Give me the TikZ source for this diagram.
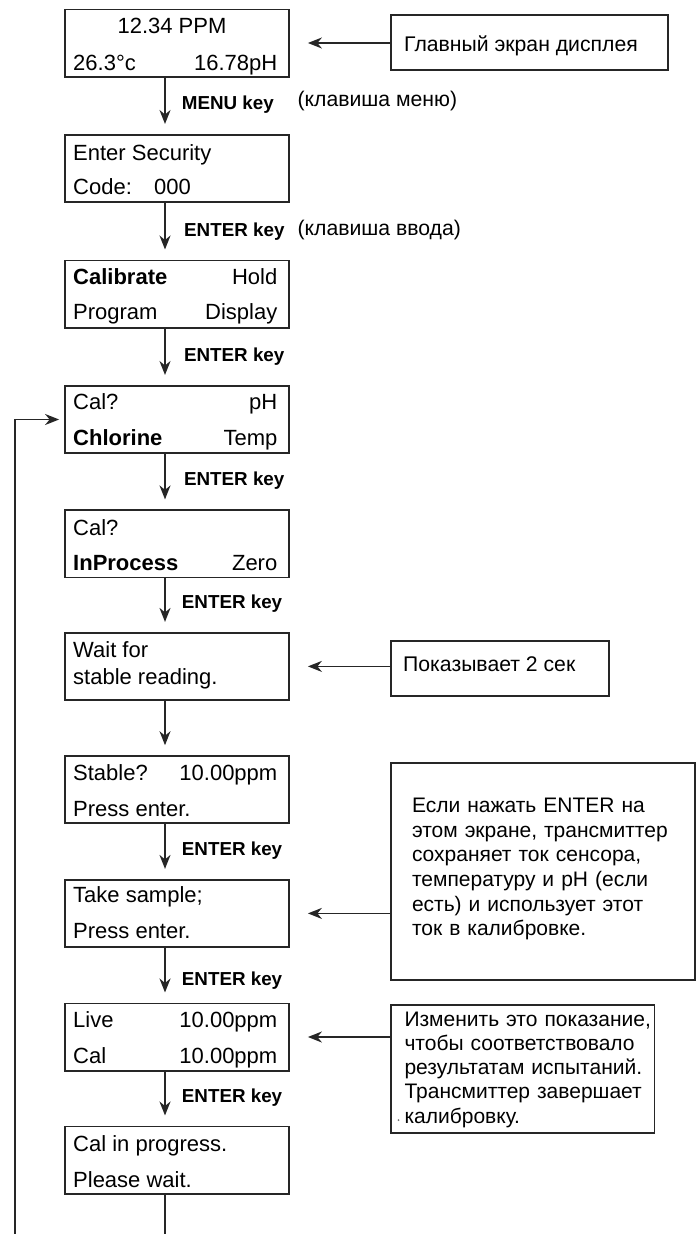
\documentclass[tikz,border=0pt]{standalone}
\usepackage{fontspec}
\setmainfont{Liberation Sans}
\usetikzlibrary{arrows.meta,calc}
\newcommand{\lcdf}{\fontsize{22}{24}\selectfont}
\newcommand{\keyf}{\fontsize{18.8}{20}\selectfont\bfseries}
\newcommand{\ruf}{\fontsize{21.2}{24.5}\selectfont}
\tikzset{
 screen/.style={draw=black!85, line width=1.8pt, minimum width=223.7pt, minimum height=67.2pt, inner sep=0pt},
 note/.style={draw=black!85, line width=1.8pt, inner sep=0pt},
 lt/.style={font=\lcdf, anchor=base west, inner sep=0pt},
 rt/.style={font=\lcdf, anchor=base east, inner sep=0pt},
 keylbl/.style={font=\keyf, anchor=base west, inner sep=0pt},
 rutext/.style={font=\ruf, anchor=base west, inner sep=0pt},
 arr/.style={draw=black!85, line width=1.8pt, -{Stealth[length=14pt,width=11pt,inset=4.5pt]}},
 flow/.style={arr, shorten >=10pt},
 side/.style={arr, shorten >=18.3pt},
 plain/.style={draw=black!85, line width=1.8pt},
}
\begin{document}
\begin{tikzpicture}[x=1pt,y=-1pt]
\useasboundingbox (0,0) rectangle (698,1234);
% screens
\node[screen] (s1) at (176.85,43) {};
\node[screen] (s2) at (176.85,168.5) {};
\node[screen] (s3) at (176.85,294) {};
\node[screen] (s4) at (176.85,419.5) {};
\node[screen] (s5) at (176.85,543.9) {};
\node[screen] (s6) at (176.85,666.4) {};
\node[screen] (s7) at (176.85,789.7) {};
\node[screen] (s8) at (176.85,913.4) {};
\node[screen] (s9) at (176.85,1037) {};
\node[screen] (s10) at (176.85,1160) {};
% screen texts
\node[font=\lcdf, anchor=base, inner sep=0pt] (t1a) at (172,33.5) {12.34 PPM};
\node[lt] (t1b) at (73,70) {26.3°c};
\node[rt] (t1c) at (277.5,70) {16.78pH};
\node[lt] (t2a) at (73,160) {Enter Security};
\node[lt] (t2b) at (73,194) {Code:};
\node[lt] (t2c) at (154,194) {000};
\node[lt] (t3a) at (73,284) {\textbf{Calibrate}};
\node[rt] (t3b) at (277.5,284) {Hold};
\node[lt] (t3c) at (73,319) {Program};
\node[rt] (t3d) at (277.5,319) {Display};
\node[lt] (t4a) at (73,409.5) {Cal?};
\node[rt] (t4b) at (277.5,409.5) {pH};
\node[lt] (t4c) at (73,445) {\textbf{Chlorine}};
\node[rt] (t4d) at (277.5,445) {Temp};
\node[lt] (t5a) at (73,535) {Cal?};
\node[lt] (t5b) at (73,570) {\textbf{InProcess}};
\node[rt] (t5c) at (277.5,570) {Zero};
\node[lt] (t6a) at (73,657) {Wait for};
\node[lt] (t6b) at (73,684) {stable reading.};
\node[lt] (t7a) at (73,780) {Stable?};
\node[rt] (t7b) at (277.5,780) {10.00ppm};
\node[lt] (t7c) at (73,816) {Press enter.};
\node[lt] (t8a) at (73,902) {Take sample;};
\node[lt] (t8b) at (73,938.5) {Press enter.};
\node[lt] (t9a) at (73,1027) {Live};
\node[rt] (t9b) at (277.5,1027) {10.00ppm};
\node[lt] (t9c) at (73,1063) {Cal};
\node[rt] (t9d) at (277.5,1063) {10.00ppm};
\node[lt] (t10a) at (73,1151) {Cal in progress.};
\node[lt] (t10b) at (73,1187) {Please wait.};
% flow arrows
\draw[flow] ([xshift=-11.85pt]s1.south) -- ([xshift=-11.85pt]s2.north);
\draw[flow] ([xshift=-11.85pt]s2.south) -- ([xshift=-11.85pt]s3.north);
\draw[flow] ([xshift=-11.85pt]s3.south) -- ([xshift=-11.85pt]s4.north);
\draw[flow] ([xshift=-11.85pt]s4.south) -- ([xshift=-11.85pt]s5.north);
\draw[flow] ([xshift=-11.85pt]s5.south) -- ([xshift=-11.85pt]s6.north);
\draw[flow] ([xshift=-11.85pt]s6.south) -- ([xshift=-11.85pt]s7.north);
\draw[flow] ([xshift=-11.85pt]s7.south) -- ([xshift=-11.85pt]s8.north);
\draw[flow] ([xshift=-11.85pt]s8.south) -- ([xshift=-11.85pt]s9.north);
\draw[flow] ([xshift=-11.85pt]s9.south) -- ([xshift=-11.85pt]s10.north);
\coordinate (bot) at (165,1240);
\draw[plain] ([xshift=-11.85pt]s10.south) -- (bot);
% key labels
\node[keylbl] (k1) at (181.7,109.3) {MENU key};
\node[rutext] (r1) at (297.4,106) {(клавиша меню)};
\node[keylbl] (k2) at (184,236) {ENTER key};
\node[rutext] (r2) at (297.4,235.5) {(клавиша ввода)};
\node[keylbl] (k3) at (183.9,361.3) {ENTER key};
\node[keylbl] (k4) at (183.9,485.6) {ENTER key};
\node[keylbl] (k5) at (181.7,608.6) {ENTER key};
\node[keylbl] (k7) at (181.7,855.6) {ENTER key};
\node[keylbl] (k8) at (181.7,985.6) {ENTER key};
\node[keylbl] (k9) at (181.7,1102) {ENTER key};
% feedback
\coordinate (fb) at (14.7,1240);
\draw[arr, shorten >=5pt] (fb) |- (s4.west);
% notes
\node[note, minimum width=277pt, minimum height=55pt] (n1) at (529.5,42.5) {};
\node[rutext] (n1t) at (404,51.5) {Главный экран дисплея};
\draw[side] (s1.east -| n1.west) -- (s1.east);
\node[note, minimum width=218pt, minimum height=55.3pt] (n2) at (500,668.4) {};
\node[rutext] (n2t) at (403,671.7) {Показывает 2 сек};
\draw[side] (s6.east -| n2.west) -- (s6.east);
\node[note, minimum width=303.6pt, minimum height=217.3pt] (n3) at (542.8,871.4) {};
\node[rutext, text width=282pt, align=left, font=\fontsize{21}{24.6}\selectfont] (n3t) at (411.8,812.7) {Если нажать ENTER на\\этом экране, трансмиттер\\сохраняет ток сенсора,\\температуру и pH (если\\есть) и использует этот\\ток в калибровке.};
\draw[side] (s8.east -| n3.west) -- (s8.east);
\node[note, minimum width=263.5pt, minimum height=127.7pt] (n4) at (522.75,1068.9) {};
\node[rutext, text width=250pt, align=left, font=\fontsize{21}{24.3}\selectfont] (n4t) at (404.3,1026) {Изменить это показание,\\чтобы соответствовало\\результатам испытаний.\\Трансмиттер завершает\\калибровку.};
\fill[black!55] (398.5,1120) circle (1pt);
\draw[side] (s9.east -| n4.west) -- (s9.east);
\end{tikzpicture}
\end{document}
